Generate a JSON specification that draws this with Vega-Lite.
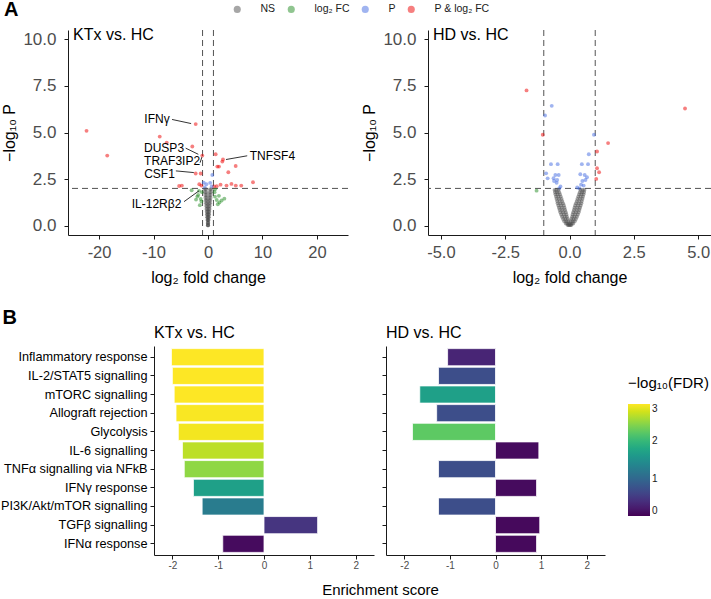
{
  "$schema": "https://vega.github.io/schema/vega-lite/v6.json",
  "padding": {"left": 0, "top": 0, "right": 0, "bottom": 0},
  "background": "white",
  "config": {
    "view": {"stroke": null},
    "font": "Liberation Sans",
    "axis": {"grid": false, "domainColor": "#1a1a1a", "tickColor": "#1a1a1a", "labelColor": "#4d4d4d", "titleColor": "#000000", "titleFontWeight": "normal", "tickSize": 4, "domainWidth": 1, "tickWidth": 1, "labelFlush": false, "labelFont": "Liberation Sans", "titleFont": "Liberation Sans"},
    "title": {"fontWeight": "normal", "color": "#000000", "font": "Liberation Sans"},
    "legend": {"titleFontWeight": "normal", "labelFont": "Liberation Sans", "titleFont": "Liberation Sans"}
  },
  "datasets": {
    "vthr": [{"x": -1}, {"x": 1}],
    "hthr": [{"p": 2}],
    "ktx_pts": [
      {"x": -22.3, "p": 5.09, "c": "P & log₂ FC"}, {"x": -18.5, "p": 3.76, "c": "P & log₂ FC"}, {"x": -8.86, "p": 4.78, "c": "P & log₂ FC"}, {"x": -7.58, "p": 4.46, "c": "P & log₂ FC"}, {"x": -2.26, "p": 5.45, "c": "P & log₂ FC"}, {"x": -2.88, "p": 4.25, "c": "P & log₂ FC"}, {"x": -1.05, "p": 3.76, "c": "P & log₂ FC"}, {"x": -1.34, "p": 2.8, "c": "P & log₂ FC"}, {"x": -2.26, "p": 2.8, "c": "P & log₂ FC"}, {"x": -5.3, "p": 2.13, "c": "P & log₂ FC"}, {"x": -4.8, "p": 2.15, "c": "P & log₂ FC"}, {"x": -1.6, "p": 2.22, "c": "P & log₂ FC"}, {"x": -1.2, "p": 2.15, "c": "P & log₂ FC"}, {"x": 1.41, "p": 3.83, "c": "P & log₂ FC"}, {"x": 2.75, "p": 3.55, "c": "P & log₂ FC"}, {"x": 2.63, "p": 3.44, "c": "P & log₂ FC"}, {"x": 2.02, "p": 3.17, "c": "P & log₂ FC"}, {"x": 1.71, "p": 3.17, "c": "P & log₂ FC"}, {"x": 5.08, "p": 3.2, "c": "P & log₂ FC"}, {"x": 3.73, "p": 2.87, "c": "P & log₂ FC"}, {"x": 8.26, "p": 2.33, "c": "P & log₂ FC"}, {"x": 6.1, "p": 2.15, "c": "P & log₂ FC"}, {"x": 3.4, "p": 2.15, "c": "P & log₂ FC"}, {"x": 4.3, "p": 2.24, "c": "P & log₂ FC"}, {"x": 5.1, "p": 2.15, "c": "P & log₂ FC"}, {"x": 1.1, "p": 2.1, "c": "P & log₂ FC"}, {"x": 1.6, "p": 2.12, "c": "P & log₂ FC"}, {"x": 2.3, "p": 2.2, "c": "P & log₂ FC"},
      {"x": -0.79, "p": 2.31, "c": "P"}, {"x": -0.3, "p": 2.22, "c": "P"}, {"x": 0.79, "p": 2.72, "c": "P"}, {"x": 0.68, "p": 2.1, "c": "P"}, {"x": -0.6, "p": 2.05, "c": "P"}, {"x": 0.4, "p": 2.3, "c": "P"},
      {"x": -3.0, "p": 1.9, "c": "log₂ FC"}, {"x": -1.65, "p": 1.87, "c": "log₂ FC"}, {"x": -1.96, "p": 1.56, "c": "log₂ FC"}, {"x": -1.34, "p": 1.43, "c": "log₂ FC"}, {"x": -1.1, "p": 1.8, "c": "log₂ FC"}, {"x": -2.2, "p": 1.4, "c": "log₂ FC"}, {"x": -1.5, "p": 1.1, "c": "log₂ FC"}, {"x": -1.2, "p": 1.3, "c": "log₂ FC"}, {"x": -1.8, "p": 1.65, "c": "log₂ FC"}, {"x": 1.28, "p": 1.56, "c": "log₂ FC"}, {"x": 1.6, "p": 1.38, "c": "log₂ FC"}, {"x": 2.1, "p": 1.25, "c": "log₂ FC"}, {"x": 1.2, "p": 1.8, "c": "log₂ FC"}, {"x": 2.0, "p": 1.6, "c": "log₂ FC"}, {"x": 2.5, "p": 1.35, "c": "log₂ FC"}, {"x": 1.8, "p": 1.15, "c": "log₂ FC"}, {"x": 1.3, "p": 1.95, "c": "log₂ FC"}, {"x": 3.0, "p": 1.45, "c": "log₂ FC"},
      {"x": 0, "p": 0.02, "c": "NS"}, {"x": 0.03, "p": 0.02, "c": "NS"}, {"x": -0.03, "p": 0.02, "c": "NS"},
      {"x": 0.06, "p": 0.15, "c": "NS"}, {"x": -0.06, "p": 0.15, "c": "NS"}, {"x": 0, "p": 0.15, "c": "NS"},
      {"x": 0.11, "p": 0.3, "c": "NS"}, {"x": -0.11, "p": 0.3, "c": "NS"}, {"x": 0.04, "p": 0.3, "c": "NS"}, {"x": -0.04, "p": 0.3, "c": "NS"},
      {"x": 0.15, "p": 0.45, "c": "NS"}, {"x": -0.15, "p": 0.45, "c": "NS"}, {"x": 0.07, "p": 0.45, "c": "NS"}, {"x": -0.07, "p": 0.45, "c": "NS"},
      {"x": 0.2, "p": 0.6, "c": "NS"}, {"x": -0.2, "p": 0.6, "c": "NS"}, {"x": 0.09, "p": 0.6, "c": "NS"}, {"x": -0.09, "p": 0.6, "c": "NS"},
      {"x": 0.24, "p": 0.75, "c": "NS"}, {"x": -0.24, "p": 0.75, "c": "NS"}, {"x": 0.11, "p": 0.75, "c": "NS"}, {"x": -0.11, "p": 0.75, "c": "NS"},
      {"x": 0.29, "p": 0.9, "c": "NS"}, {"x": -0.29, "p": 0.9, "c": "NS"}, {"x": 0.14, "p": 0.9, "c": "NS"}, {"x": -0.14, "p": 0.9, "c": "NS"},
      {"x": 0.33, "p": 1.05, "c": "NS"}, {"x": -0.33, "p": 1.05, "c": "NS"}, {"x": 0.16, "p": 1.05, "c": "NS"}, {"x": -0.16, "p": 1.05, "c": "NS"},
      {"x": 0.38, "p": 1.2, "c": "NS"}, {"x": -0.38, "p": 1.2, "c": "NS"}, {"x": 0.18, "p": 1.2, "c": "NS"}, {"x": -0.18, "p": 1.2, "c": "NS"},
      {"x": 0.42, "p": 1.35, "c": "NS"}, {"x": -0.42, "p": 1.35, "c": "NS"}, {"x": 0.2, "p": 1.35, "c": "NS"}, {"x": -0.2, "p": 1.35, "c": "NS"},
      {"x": 0.47, "p": 1.5, "c": "NS"}, {"x": -0.47, "p": 1.5, "c": "NS"}, {"x": 0.23, "p": 1.5, "c": "NS"}, {"x": -0.23, "p": 1.5, "c": "NS"},
      {"x": 0.51, "p": 1.65, "c": "NS"}, {"x": -0.51, "p": 1.65, "c": "NS"}, {"x": 0.25, "p": 1.65, "c": "NS"}, {"x": -0.25, "p": 1.65, "c": "NS"},
      {"x": 0.56, "p": 1.8, "c": "NS"}, {"x": -0.56, "p": 1.8, "c": "NS"}, {"x": 0.3, "p": 1.8, "c": "NS"}, {"x": -0.3, "p": 1.8, "c": "NS"},
      {"x": 0.6, "p": 1.95, "c": "NS"}, {"x": -0.6, "p": 1.95, "c": "NS"}, {"x": 0.35, "p": 1.95, "c": "NS"}, {"x": -0.35, "p": 1.95, "c": "NS"}
    ],
    "hd_pts": [
      {"x": -1.67, "p": 7.26, "c": "P & log₂ FC"}, {"x": -1.04, "p": 4.88, "c": "P & log₂ FC"}, {"x": 4.49, "p": 6.29, "c": "P & log₂ FC"}, {"x": 1.5, "p": 4.43, "c": "P & log₂ FC"}, {"x": 1.07, "p": 3.98, "c": "P & log₂ FC"}, {"x": 1.07, "p": 3.08, "c": "P & log₂ FC"}, {"x": 1.15, "p": 2.87, "c": "P & log₂ FC"}, {"x": 1.04, "p": 2.51, "c": "P & log₂ FC"},
      {"x": -0.69, "p": 6.43, "c": "P"}, {"x": -0.95, "p": 5.91, "c": "P"}, {"x": 0.95, "p": 4.88, "c": "P"}, {"x": -0.72, "p": 3.3, "c": "P"}, {"x": -0.46, "p": 3.3, "c": "P"}, {"x": -0.91, "p": 2.81, "c": "P"}, {"x": -0.55, "p": 2.72, "c": "P"}, {"x": -0.42, "p": 2.72, "c": "P"}, {"x": -0.85, "p": 2.54, "c": "P"}, {"x": -0.62, "p": 2.55, "c": "P"}, {"x": -0.6, "p": 2.4, "c": "P"}, {"x": -0.48, "p": 2.45, "c": "P"}, {"x": -0.5, "p": 2.3, "c": "P"}, {"x": -0.35, "p": 2.1, "c": "P"}, {"x": -0.4, "p": 2.0, "c": "P"}, {"x": 0.48, "p": 3.3, "c": "P"}, {"x": 0.75, "p": 3.83, "c": "P"}, {"x": 0.72, "p": 3.3, "c": "P"}, {"x": 0.42, "p": 2.76, "c": "P"}, {"x": 0.59, "p": 2.72, "c": "P"}, {"x": 0.68, "p": 2.6, "c": "P"}, {"x": 0.62, "p": 2.45, "c": "P"}, {"x": 0.5, "p": 2.4, "c": "P"}, {"x": 0.45, "p": 2.2, "c": "P"}, {"x": 0.55, "p": 2.15, "c": "P"}, {"x": 0.39, "p": 2.0, "c": "P"}, {"x": 0.3, "p": 2.05, "c": "P"},
      {"x": -1.28, "p": 1.88, "c": "log₂ FC"},
      {"x": -0.07, "p": 0.03, "c": "NS"}, {"x": -0.035, "p": 0.03, "c": "NS"}, {"x": 0, "p": 0.03, "c": "NS"}, {"x": 0.035, "p": 0.03, "c": "NS"}, {"x": 0.07, "p": 0.03, "c": "NS"},
      {"x": -0.145, "p": 0.12, "c": "NS"}, {"x": -0.09, "p": 0.12, "c": "NS"}, {"x": -0.03, "p": 0.12, "c": "NS"}, {"x": 0.03, "p": 0.12, "c": "NS"}, {"x": 0.09, "p": 0.12, "c": "NS"}, {"x": 0.145, "p": 0.12, "c": "NS"},
      {"x": -0.205, "p": 0.24, "c": "NS"}, {"x": -0.13, "p": 0.24, "c": "NS"}, {"x": -0.05, "p": 0.24, "c": "NS"}, {"x": 0.05, "p": 0.24, "c": "NS"}, {"x": 0.13, "p": 0.24, "c": "NS"}, {"x": 0.205, "p": 0.24, "c": "NS"},
      {"x": -0.25, "p": 0.36, "c": "NS"}, {"x": -0.16, "p": 0.36, "c": "NS"}, {"x": -0.07, "p": 0.36, "c": "NS"}, {"x": 0.07, "p": 0.36, "c": "NS"}, {"x": 0.16, "p": 0.36, "c": "NS"}, {"x": 0.25, "p": 0.36, "c": "NS"},
      {"x": -0.29, "p": 0.48, "c": "NS"}, {"x": -0.19, "p": 0.48, "c": "NS"}, {"x": -0.1, "p": 0.48, "c": "NS"}, {"x": 0.1, "p": 0.48, "c": "NS"}, {"x": 0.19, "p": 0.48, "c": "NS"}, {"x": 0.29, "p": 0.48, "c": "NS"},
      {"x": -0.325, "p": 0.6, "c": "NS"}, {"x": -0.22, "p": 0.6, "c": "NS"}, {"x": -0.12, "p": 0.6, "c": "NS"}, {"x": 0.12, "p": 0.6, "c": "NS"}, {"x": 0.22, "p": 0.6, "c": "NS"}, {"x": 0.325, "p": 0.6, "c": "NS"},
      {"x": -0.355, "p": 0.72, "c": "NS"}, {"x": -0.25, "p": 0.72, "c": "NS"}, {"x": -0.145, "p": 0.72, "c": "NS"}, {"x": 0.145, "p": 0.72, "c": "NS"}, {"x": 0.25, "p": 0.72, "c": "NS"}, {"x": 0.355, "p": 0.72, "c": "NS"},
      {"x": -0.385, "p": 0.84, "c": "NS"}, {"x": -0.28, "p": 0.84, "c": "NS"}, {"x": -0.17, "p": 0.84, "c": "NS"}, {"x": 0.17, "p": 0.84, "c": "NS"}, {"x": 0.28, "p": 0.84, "c": "NS"}, {"x": 0.385, "p": 0.84, "c": "NS"},
      {"x": -0.41, "p": 0.96, "c": "NS"}, {"x": -0.305, "p": 0.96, "c": "NS"}, {"x": -0.195, "p": 0.96, "c": "NS"}, {"x": 0.195, "p": 0.96, "c": "NS"}, {"x": 0.305, "p": 0.96, "c": "NS"}, {"x": 0.41, "p": 0.96, "c": "NS"},
      {"x": -0.435, "p": 1.08, "c": "NS"}, {"x": -0.33, "p": 1.08, "c": "NS"}, {"x": -0.22, "p": 1.08, "c": "NS"}, {"x": 0.22, "p": 1.08, "c": "NS"}, {"x": 0.33, "p": 1.08, "c": "NS"}, {"x": 0.435, "p": 1.08, "c": "NS"},
      {"x": -0.46, "p": 1.2, "c": "NS"}, {"x": -0.355, "p": 1.2, "c": "NS"}, {"x": -0.25, "p": 1.2, "c": "NS"}, {"x": 0.25, "p": 1.2, "c": "NS"}, {"x": 0.355, "p": 1.2, "c": "NS"}, {"x": 0.46, "p": 1.2, "c": "NS"},
      {"x": -0.48, "p": 1.32, "c": "NS"}, {"x": -0.38, "p": 1.32, "c": "NS"}, {"x": -0.28, "p": 1.32, "c": "NS"}, {"x": 0.28, "p": 1.32, "c": "NS"}, {"x": 0.38, "p": 1.32, "c": "NS"}, {"x": 0.48, "p": 1.32, "c": "NS"},
      {"x": -0.505, "p": 1.44, "c": "NS"}, {"x": -0.41, "p": 1.44, "c": "NS"}, {"x": -0.31, "p": 1.44, "c": "NS"}, {"x": 0.31, "p": 1.44, "c": "NS"}, {"x": 0.41, "p": 1.44, "c": "NS"}, {"x": 0.505, "p": 1.44, "c": "NS"},
      {"x": -0.525, "p": 1.56, "c": "NS"}, {"x": -0.435, "p": 1.56, "c": "NS"}, {"x": -0.34, "p": 1.56, "c": "NS"}, {"x": 0.34, "p": 1.56, "c": "NS"}, {"x": 0.435, "p": 1.56, "c": "NS"}, {"x": 0.525, "p": 1.56, "c": "NS"},
      {"x": -0.545, "p": 1.68, "c": "NS"}, {"x": -0.46, "p": 1.68, "c": "NS"}, {"x": -0.37, "p": 1.68, "c": "NS"}, {"x": 0.37, "p": 1.68, "c": "NS"}, {"x": 0.46, "p": 1.68, "c": "NS"}, {"x": 0.545, "p": 1.68, "c": "NS"},
      {"x": -0.565, "p": 1.8, "c": "NS"}, {"x": -0.485, "p": 1.8, "c": "NS"}, {"x": -0.4, "p": 1.8, "c": "NS"}, {"x": 0.4, "p": 1.8, "c": "NS"}, {"x": 0.485, "p": 1.8, "c": "NS"}, {"x": 0.565, "p": 1.8, "c": "NS"},
      {"x": -0.58, "p": 1.92, "c": "NS"}, {"x": -0.51, "p": 1.92, "c": "NS"}, {"x": -0.43, "p": 1.92, "c": "NS"}, {"x": 0.43, "p": 1.92, "c": "NS"}, {"x": 0.51, "p": 1.92, "c": "NS"}, {"x": 0.58, "p": 1.92, "c": "NS"}
    ],
    "ktx_lab": [
      {"label": "IFNγ", "tx": -9.36, "ty": 5.75, "x0": -6.6, "y0": 5.7, "x1": -3.1, "y1": 5.48},
      {"label": "DUSP3", "tx": -8.07, "ty": 4.18, "x0": -4.1, "y0": 4.16, "x1": -1.78, "y1": 3.83},
      {"label": "TRAF3IP2", "tx": -6.6, "ty": 3.47, "x0": -1.45, "y0": 3.38, "x1": -1.12, "y1": 3.68},
      {"label": "CSF1", "tx": -8.9, "ty": 2.8, "x0": -5.9, "y0": 2.94, "x1": -2.6, "y1": 2.85},
      {"label": "IL-12Rβ2", "tx": -9.45, "ty": 1.15, "x0": -4.4, "y0": 1.29, "x1": -1.65, "y1": 1.87},
      {"label": "TNFSF4", "tx": 11.83, "ty": 3.76, "x0": 7.2, "y0": 3.75, "x1": 3.3, "y1": 3.55}
    ],
    "ktx_bars": [
      {"pathway": "Inflammatory response", "score": -2.02, "fdr": 3.0},
      {"pathway": "IL-2/STAT5 signalling", "score": -2.0, "fdr": 3.0},
      {"pathway": "mTORC signalling", "score": -1.96, "fdr": 3.0},
      {"pathway": "Allograft rejection", "score": -1.92, "fdr": 2.98},
      {"pathway": "Glycolysis", "score": -1.87, "fdr": 2.95},
      {"pathway": "IL-6 signalling", "score": -1.78, "fdr": 2.7},
      {"pathway": "TNFα signalling via NFkB", "score": -1.74, "fdr": 2.5},
      {"pathway": "IFNγ response", "score": -1.54, "fdr": 1.7},
      {"pathway": "PI3K/Akt/mTOR signalling", "score": -1.35, "fdr": 1.25},
      {"pathway": "TGFβ signalling", "score": 1.17, "fdr": 0.45},
      {"pathway": "IFNα response", "score": -0.9, "fdr": 0.08}
    ],
    "hd_bars": [
      {"pathway": "Inflammatory response", "score": -1.05, "fdr": 0.3},
      {"pathway": "IL-2/STAT5 signalling", "score": -1.25, "fdr": 0.7},
      {"pathway": "mTORC signalling", "score": -1.66, "fdr": 1.7},
      {"pathway": "Allograft rejection", "score": -1.29, "fdr": 0.7},
      {"pathway": "Glycolysis", "score": -1.82, "fdr": 2.25},
      {"pathway": "IL-6 signalling", "score": 0.95, "fdr": 0.08},
      {"pathway": "TNFα signalling via NFkB", "score": -1.25, "fdr": 0.7},
      {"pathway": "IFNγ response", "score": 0.9, "fdr": 0.08},
      {"pathway": "PI3K/Akt/mTOR signalling", "score": -1.25, "fdr": 0.7},
      {"pathway": "TGFβ signalling", "score": 0.97, "fdr": 0.06},
      {"pathway": "IFNα response", "score": 0.9, "fdr": 0.06}
    ]
  },
  "resolve": {"scale": {"color": "independent", "fill": "independent"}, "legend": {"color": "independent", "fill": "independent"}},
  "columns": 1,
  "spacing": 22,
  "concat": [
    {
      "title": {"text": "A", "fontSize": 20, "fontWeight": "bold", "anchor": "start", "frame": "bounds", "offset": -16, "dx": 2},
      "spacing": 80,
      "bounds": "flush",
      "hconcat": [
        {
          "width": 280, "height": 205,
          "title": {"text": "KTx vs. HC", "anchor": "start", "frame": "group", "offset": -13, "dx": 5, "fontSize": 16},
          "layer": [
            {"data": {"name": "vthr"}, "mark": {"type": "rule", "strokeDash": [6, 4], "color": "#404040", "strokeWidth": 0.9},
             "encoding": {"x": {"field": "x", "type": "quantitative", "title": "log₂ fold change"}}},
            {"data": {"name": "hthr"}, "mark": {"type": "rule", "strokeDash": [6, 4], "color": "#404040", "strokeWidth": 0.9},
             "encoding": {"y": {"field": "p", "type": "quantitative", "title": "−log₁₀ P"}}},
            {"data": {"name": "ktx_pts"}, "mark": {"type": "circle", "size": 15, "opacity": 0.5},
             "encoding": {
               "x": {"field": "x", "type": "quantitative", "title": "log₂ fold change", "scale": {"domain": [-25.7, 25.7], "nice": false, "zero": false},
                     "axis": {"values": [-20, -10, 0, 10, 20], "labelFontSize": 16.5, "titleFontSize": 16, "labelPadding": 5, "titlePadding": 9, "labelExpr": "replace(datum.label, '−', '-')"}},
               "y": {"field": "p", "type": "quantitative", "title": "−log₁₀ P", "scale": {"domain": [-0.5, 10.5], "nice": false, "zero": false},
                     "axis": {"values": [0, 2.5, 5, 7.5, 10], "format": ".1f", "labelFontSize": 17, "titleFontSize": 16, "labelPadding": 8, "titlePadding": 5}},
               "color": {"field": "c", "type": "nominal", "scale": {"domain": ["NS", "log₂ FC", "P", "P & log₂ FC"], "range": ["#4d4d4d", "#228B22", "#4169E1", "#EE0000"]},
                         "legend": {"orient": "none", "legendX": 164, "legendY": -26, "direction": "horizontal", "title": null, "symbolType": "circle", "symbolSize": 50, "symbolOpacity": 0.5, "symbolStrokeWidth": 0, "labelFontSize": 10.5, "labelColor": "#1a1a1a", "columnPadding": 10, "labelOffset": 18}}
             }},
            {"data": {"name": "ktx_lab"}, "mark": {"type": "rule", "color": "#000000", "strokeWidth": 0.8},
             "encoding": {"x": {"field": "x0", "type": "quantitative", "title": "log₂ fold change"}, "x2": {"field": "x1", "title": "log₂ fold change"},
                          "y": {"field": "y0", "type": "quantitative", "title": "−log₁₀ P"}, "y2": {"field": "y1", "title": "−log₁₀ P"}}},
            {"data": {"name": "ktx_lab"}, "mark": {"type": "text", "fontSize": 12, "font": "Liberation Sans", "color": "#000000"},
             "encoding": {"x": {"field": "tx", "type": "quantitative", "title": "log₂ fold change"}, "y": {"field": "ty", "type": "quantitative", "title": "−log₁₀ P"}, "text": {"field": "label"}}}
          ]
        },
        {
          "width": 283, "height": 205,
          "title": {"text": "HD vs. HC", "anchor": "start", "frame": "group", "offset": -13, "dx": 5, "fontSize": 16},
          "layer": [
            {"data": {"name": "vthr"}, "mark": {"type": "rule", "strokeDash": [6, 4], "color": "#404040", "strokeWidth": 0.9},
             "encoding": {"x": {"field": "x", "type": "quantitative", "title": "log₂ fold change"}}},
            {"data": {"name": "hthr"}, "mark": {"type": "rule", "strokeDash": [6, 4], "color": "#404040", "strokeWidth": 0.9},
             "encoding": {"y": {"field": "p", "type": "quantitative", "title": "−log₁₀ P"}}},
            {"data": {"name": "hd_pts"}, "mark": {"type": "circle", "size": 15, "opacity": 0.5},
             "encoding": {
               "x": {"field": "x", "type": "quantitative", "title": "log₂ fold change", "scale": {"domain": [-5.5, 5.5], "nice": false, "zero": false},
                     "axis": {"values": [-5, -2.5, 0, 2.5, 5], "format": ".1f", "labelFontSize": 16.5, "titleFontSize": 16, "labelPadding": 5, "titlePadding": 9, "labelExpr": "replace(datum.label, '−', '-')"}},
               "y": {"field": "p", "type": "quantitative", "title": "−log₁₀ P", "scale": {"domain": [-0.5, 10.5], "nice": false, "zero": false},
                     "axis": {"values": [0, 2.5, 5, 7.5, 10], "format": ".1f", "labelFontSize": 17, "titleFontSize": 16, "labelPadding": 8, "titlePadding": 5}},
               "color": {"field": "c", "type": "nominal", "scale": {"domain": ["NS", "log₂ FC", "P", "P & log₂ FC"], "range": ["#4d4d4d", "#228B22", "#4169E1", "#EE0000"]},
                         "legend": {"orient": "none", "legendX": 164, "legendY": -26, "direction": "horizontal", "title": null, "symbolType": "circle", "symbolSize": 50, "symbolOpacity": 0.5, "symbolStrokeWidth": 0, "labelFontSize": 10.5, "labelColor": "#1a1a1a", "columnPadding": 10, "labelOffset": 18}}
             }}
          ]
        }
      ]
    },
    {
      "title": {"text": "B", "fontSize": 20, "fontWeight": "bold", "anchor": "start", "frame": "bounds", "offset": -3, "dx": 2},
      "spacing": 12,
      "bounds": "flush",
      "hconcat": [
        {
          "width": 306, "height": 209,
          "title": {"text": "KTx vs. HC", "anchor": "start", "frame": "group", "fontSize": 16, "offset": 5, "dx": 86},
          "data": {"name": "ktx_bars"},
          "mark": {"type": "bar", "stroke": "white", "strokeWidth": 0.8},
          "encoding": {
            "y": {"field": "pathway", "type": "nominal", "sort": null, "scale": {"paddingInner": 0.08, "paddingOuter": 0.14},
                  "axis": {"title": null, "offset": -86, "labelFontSize": 12.7, "labelColor": "#000000", "labelPadding": 3, "labelLimit": 300}},
            "x": {"field": "score", "type": "quantitative", "scale": {"domain": [-2.4, 2.4], "range": [86, 306], "nice": false},
                  "axis": {"values": [-2, -1, 0, 1, 2], "labelFontSize": 10, "labelPadding": 1, "title": "Enrichment score", "titleFontSize": 15, "titleX": 312, "titleAlign": "center", "titlePadding": 12, "labelExpr": "replace(datum.label, '−', '-')"}},
            "fill": {"field": "fdr", "type": "quantitative", "scale": {"scheme": "viridis", "domain": [0, 3]},
                     "legend": {"orient": "none", "legendX": 555, "legendY": 25, "padding": 5, "title": "−log₁₀(FDR)", "titleFontSize": 15, "gradientLength": 112, "gradientThickness": 22, "labelFontSize": 10, "labelColor": "#1a1a1a", "values": [0, 1, 2, 3], "titlePadding": 13, "direction": "vertical", "gradientStrokeWidth": 0}}
          }
        },
        {
          "width": 219, "height": 209,
          "title": {"text": "HD vs. HC", "anchor": "start", "frame": "group", "fontSize": 16, "offset": 5},
          "data": {"name": "hd_bars"},
          "mark": {"type": "bar", "stroke": "white", "strokeWidth": 0.8},
          "encoding": {
            "y": {"field": "pathway", "type": "nominal", "sort": null, "scale": {"paddingInner": 0.08, "paddingOuter": 0.14},
                  "axis": {"title": null, "labels": false}},
            "x": {"field": "score", "type": "quantitative", "scale": {"domain": [-2.4, 2.4], "nice": false},
                  "axis": {"values": [-2, -1, 0, 1, 2], "labelFontSize": 10, "labelPadding": 1, "title": null, "labelExpr": "replace(datum.label, '−', '-')"}},
            "fill": {"field": "fdr", "type": "quantitative", "scale": {"scheme": "viridis", "domain": [0, 3]},
                     "legend": {"orient": "none", "legendX": 555, "legendY": 25, "padding": 5, "title": "−log₁₀(FDR)", "titleFontSize": 15, "gradientLength": 112, "gradientThickness": 22, "labelFontSize": 10, "labelColor": "#1a1a1a", "values": [0, 1, 2, 3], "titlePadding": 13, "direction": "vertical", "gradientStrokeWidth": 0}}
          }
        }
      ]
    }
  ]
}
